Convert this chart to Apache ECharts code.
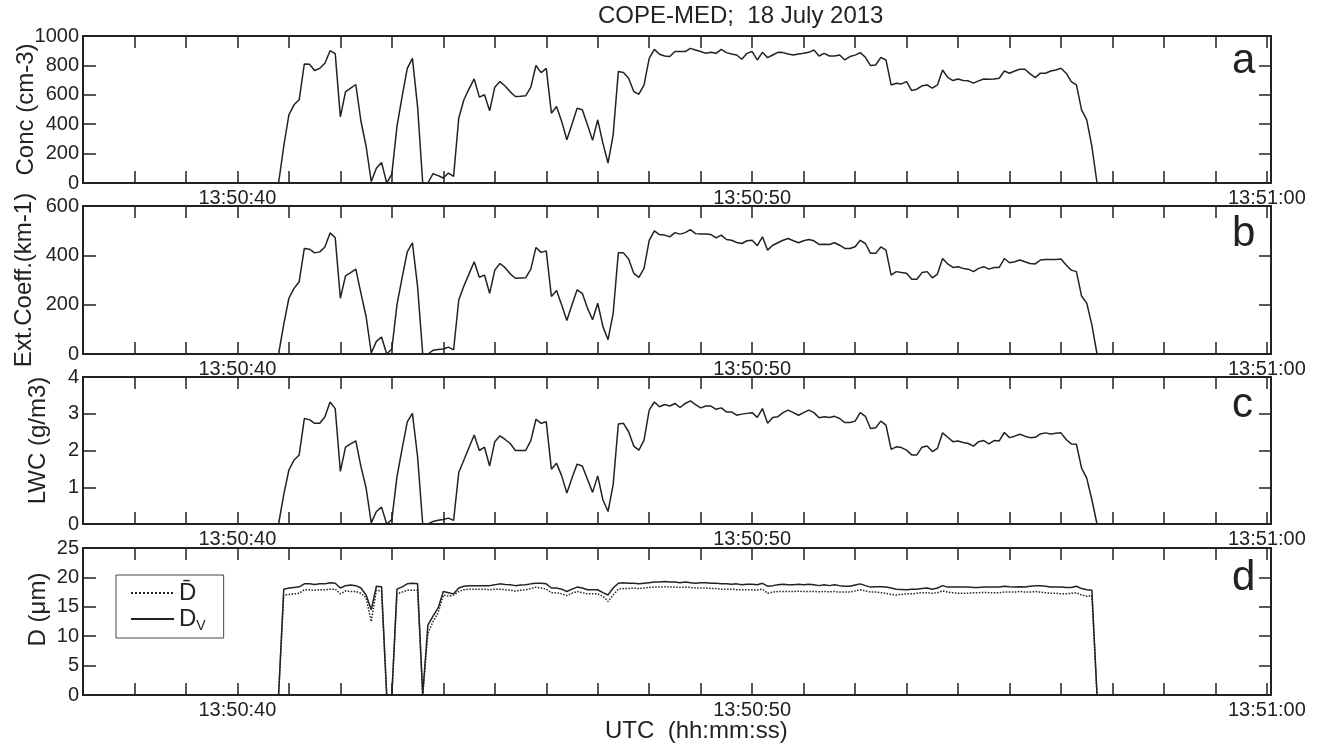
<!DOCTYPE html>
<html>
<head>
<meta charset="utf-8">
<script src="https://cdn.jsdelivr.net/npm/echarts@6.0.0/dist/echarts.min.js"></script>
<style>
html,body{margin:0;padding:0;background:#fff;}
#chart{width:1322px;height:747px;}
</style>
</head>
<body>
<div id="chart"></div>
<script>
// seconds after 13:50:00 UTC (10 Hz samples)
let seconds = [
40.8,40.9,41.0,41.1,41.2,41.3,41.4,41.5,41.6,41.7,41.8,41.9,42.0,42.1,42.2,42.3,42.4,42.5,42.6,42.7,
42.8,42.9,43.0,43.1,43.2,43.3,43.4,43.5,43.6,43.7,43.8,43.9,44.0,44.1,44.2,44.3,44.4,44.5,44.6,44.7,
44.8,44.9,45.0,45.1,45.2,45.3,45.4,45.5,45.6,45.7,45.8,45.9,46.0,46.1,46.2,46.3,46.4,46.5,46.6,46.7,
46.8,46.9,47.0,47.1,47.2,47.3,47.4,47.5,47.6,47.7,47.8,47.9,48.0,48.1,48.2,48.3,48.4,48.5,48.6,48.7,
48.8,48.9,49.0,49.1,49.2,49.3,49.4,49.5,49.6,49.7,49.8,49.9,50.0,50.1,50.2,50.3,50.4,50.5,50.6,50.7,
50.8,50.9,51.0,51.1,51.2,51.3,51.4,51.5,51.6,51.7,51.8,51.9,52.0,52.1,52.2,52.3,52.4,52.5,52.6,52.7,
52.8,52.9,53.0,53.1,53.2,53.3,53.4,53.5,53.6,53.7,53.8,53.9,54.0,54.1,54.2,54.3,54.4,54.5,54.6,54.7,
54.8,54.9,55.0,55.1,55.2,55.3,55.4,55.5,55.6,55.7,55.8,55.9,56.0,56.1,56.2,56.3,56.4,56.5,56.6,56.7
];
/* a: Conc (cm-3) */
let conc = [
0,250,464,532,566,810,808,765,780,815,900,880,450,620,645,670,420,250,10,100,
140,0,60,385,590,780,848,520,0,0,63,50,34,68,45,441,566,640,708,584,
600,491,652,690,660,620,588,590,593,652,799,751,780,475,520,419,294,400,509,498,
396,290,430,271,136,328,758,751,713,622,604,667,848,909,876,864,860,894,894,894,
916,905,894,882,889,882,909,887,878,871,842,882,894,837,889,853,871,889,887,878,
871,878,882,889,905,864,882,864,864,871,837,860,870,887,855,799,803,855,837,667,
679,674,690,629,638,661,667,645,667,769,719,697,708,697,695,679,695,708,706,708,
713,762,747,762,774,774,742,717,747,747,762,769,781,747,690,667,498,430,249,0
];
/* b: Ext.Coeff. (km-1) */
let ext = [
0,120,226,266,293,428,425,410,414,434,491,471,226,317,330,344,246,152,4,51,
69,0,20,200,310,414,451,273,0,0,15,18,20,28,17,219,276,325,374,311,
320,246,340,367,350,325,307,308,309,344,432,412,418,233,257,199,136,200,260,246,
186,139,206,112,58,165,410,410,385,327,311,347,461,499,484,482,475,492,486,492,
504,488,486,486,484,471,482,464,461,452,448,459,461,439,475,421,441,451,461,468,
459,451,459,464,459,444,445,444,451,441,428,428,435,461,448,408,408,434,421,320,
334,330,327,303,303,330,334,309,324,387,365,351,354,347,344,334,347,354,344,351,
351,387,370,374,381,374,367,365,381,383,383,383,385,361,340,334,235,206,118,0
];
/* c: LWC (g/m3) */
let lwc = [
0,0.8,1.47,1.74,1.88,2.87,2.84,2.74,2.74,2.92,3.32,3.14,1.43,2.09,2.18,2.26,1.56,0.98,0.03,0.34,
0.46,0,0.12,1.29,2.05,2.78,3.01,1.83,0,0,0.07,0.10,0.12,0.16,0.10,1.40,1.74,2.08,2.42,2.00,
2.09,1.58,2.24,2.40,2.30,2.19,2.00,2.00,2.00,2.27,2.85,2.74,2.78,1.49,1.65,1.31,0.84,1.25,1.63,1.58,
1.22,0.86,1.31,0.66,0.34,1.07,2.72,2.74,2.51,2.12,2.01,2.28,3.10,3.32,3.19,3.25,3.21,3.28,3.17,3.28,
3.35,3.25,3.16,3.21,3.21,3.12,3.16,3.05,3.05,2.96,2.99,3.01,3.03,2.90,3.14,2.74,2.90,2.92,3.03,3.10,
3.03,2.96,3.03,3.10,3.03,2.89,2.92,2.90,2.93,2.87,2.76,2.76,2.80,3.03,2.93,2.60,2.62,2.80,2.69,2.03,
2.10,2.08,2.01,1.88,1.88,2.09,2.12,1.97,2.06,2.48,2.36,2.24,2.26,2.22,2.19,2.12,2.24,2.27,2.18,2.27,
2.26,2.49,2.35,2.39,2.44,2.39,2.35,2.36,2.45,2.48,2.45,2.47,2.48,2.30,2.18,2.17,1.52,1.25,0.66,0
];
/* d: mean diameter (dotted) */
let dMean = [
0,17.0,17.1,17.2,17.3,17.9,17.9,17.8,17.9,17.9,18.0,18.0,17.2,17.7,17.6,17.6,17.3,16.5,12.5,17.8,
17.7,0,0,17.2,17.5,17.8,17.8,17.8,0,10.5,12.5,14.0,17.0,16.8,17.0,17.6,17.9,18.0,18.0,18.0,
18.0,17.9,18.0,18.0,17.9,17.8,17.7,17.8,17.9,18.1,18.35,18.2,18.0,17.4,17.4,17.2,16.9,17.3,17.6,17.4,
17.2,17.2,17.2,16.8,15.9,17.0,18.0,18.1,18.1,18.2,18.1,18.2,18.3,18.35,18.35,18.4,18.35,18.35,18.3,18.35,
18.3,18.2,18.2,18.2,18.1,18.1,18.0,18.0,18.0,17.9,17.9,17.9,17.9,17.85,18.0,17.3,17.5,17.6,17.6,17.6,
17.6,17.65,17.6,17.6,17.6,17.55,17.6,17.55,17.6,17.5,17.5,17.5,17.7,17.9,17.7,17.5,17.5,17.4,17.3,17.1,
17.0,17.1,17.2,17.2,17.3,17.4,17.4,17.3,17.4,17.7,17.5,17.4,17.3,17.3,17.3,17.4,17.4,17.45,17.4,17.4,
17.4,17.5,17.5,17.5,17.6,17.5,17.5,17.6,17.5,17.4,17.3,17.3,17.2,17.2,17.3,17.4,17.0,16.8,16.9,0
];
/* d: volume diameter (solid) */
let dVol = [
0,18.0,18.2,18.3,18.4,18.9,18.9,18.8,18.9,18.9,19.1,19.0,18.2,18.6,18.7,18.6,18.2,17.0,14.5,18.5,
18.4,0,0,18.0,18.4,18.9,19.0,18.9,0,11.9,13.4,14.8,17.6,17.4,17.2,18.2,18.5,18.6,18.6,18.6,
18.6,18.6,18.75,18.9,18.8,18.75,18.6,18.7,18.75,18.9,19.0,19.0,18.9,18.2,18.2,18.0,17.6,18.0,18.35,18.2,
17.9,17.9,17.9,17.4,17.0,18.2,19.0,19.1,19.0,19.0,18.9,19.0,19.1,19.2,19.2,19.3,19.2,19.2,19.1,19.2,
19.1,19.0,19.1,19.1,19.0,19.0,18.9,18.9,18.85,18.9,18.75,18.85,18.85,18.75,19.0,18.5,18.6,18.75,18.85,18.75,
18.75,18.85,18.75,18.85,18.75,18.6,18.75,18.6,18.75,18.6,18.5,18.5,18.7,18.9,18.6,18.35,18.4,18.4,18.35,18.2,
18.0,17.95,17.9,18.0,18.0,18.1,18.2,18.0,18.2,18.6,18.35,18.35,18.35,18.35,18.35,18.3,18.3,18.35,18.35,18.35,
18.35,18.5,18.4,18.35,18.4,18.35,18.5,18.6,18.6,18.5,18.35,18.35,18.35,18.3,18.3,18.5,18.1,17.9,17.8,0
];
let timeLabels = {40:'13:50:40', 50:'13:50:50', 60:'13:51:00'};

let FONT = '"Liberation Sans", Arial, sans-serif';
let INK = '#222';

let panels = [
    {top:36,  height:147, min:0, max:1000, step:200, name:'Conc (cm-3)',      gap:45, pad:[0,0,0,0],  tag:'a', tagTop:40},
    {top:206, height:148, min:0, max:600,  step:200, name:'Ext.Coeff.(km-1)', gap:47, pad:[0,0,0,0],  tag:'b', tagTop:213},
    {top:377, height:147, min:0, max:4,    step:1,   name:'LWC (g/m3)',       gap:33, pad:[0,0,0,20], tag:'c', tagTop:384},
    {top:548, height:147, min:0, max:25,   step:5,   name:'D (\u03bcm)',      gap:33, pad:[0,0,0,24], tag:'d', tagTop:557}
];

function pairs(vals){
    return seconds.map(function(s,i){ return [s, vals[i]]; });
}

let grid = [], xAxis = [], yAxis = [], title = [];
panels.forEach(function(p,i){
    grid.push({left:83, right:51, top:p.top, height:p.height, outerBoundsMode:'none', containLabel:false});
    // bottom axis with labels, top axis only ticks
    xAxis.push({
        gridIndex:i, type:'value', min:37, max:60.08, interval:1, position:'bottom',
        axisLine:{show:true, onZero:false, lineStyle:{color:INK, width:2}},
        axisTick:{show:true, inside:true, length:12, lineStyle:{color:INK, width:1.5}},
        axisLabel:{fontSize:20, color:INK, fontFamily:FONT, margin:5,
            formatter:function(v){ return timeLabels[Math.round(v*100)/100] || ''; }},
        splitLine:{show:false}
    });
    xAxis.push({
        gridIndex:i, type:'value', min:37, max:60.08, interval:1, position:'top',
        axisLine:{show:true, onZero:false, lineStyle:{color:INK, width:2}},
        axisTick:{show:true, inside:true, length:12, lineStyle:{color:INK, width:1.5}},
        axisLabel:{show:false}, splitLine:{show:false}
    });
    yAxis.push({
        gridIndex:i, type:'value', min:p.min, max:p.max, interval:p.step, position:'left',
        name:p.name, nameLocation:'middle', nameGap:p.gap, nameMoveOverlap:false,
        nameTextStyle:{fontSize:24, color:INK, fontFamily:FONT, padding:p.pad},
        axisLine:{show:true, onZero:false, lineStyle:{color:INK, width:2}},
        axisTick:{show:true, inside:true, length:13, lineStyle:{color:INK, width:1.5}},
        axisLabel:{fontSize:20, color:INK, fontFamily:FONT, margin:4,
            formatter:function(v){ return String(v); }},
        splitLine:{show:false}
    });
    yAxis.push({
        gridIndex:i, type:'value', min:p.min, max:p.max, interval:p.step, position:'right',
        axisLine:{show:true, onZero:false, lineStyle:{color:INK, width:2}},
        axisTick:{show:true, inside:true, length:12, lineStyle:{color:INK, width:1.5}},
        axisLabel:{show:false}, splitLine:{show:false}
    });
    title.push({text:p.tag, left:1232, top:p.tagTop, padding:0,
        textStyle:{fontSize:42, fontWeight:'normal', color:INK, fontFamily:FONT}});
});

title.push({text:'COPE-MED;  18 July 2013', left:598, top:4, padding:0,
    textStyle:{fontSize:24, fontWeight:'normal', color:INK, fontFamily:FONT}});
title.push({text:'UTC  (hh:mm:ss)', left:605, top:719, padding:0,
    textStyle:{fontSize:24, fontWeight:'normal', color:INK, fontFamily:FONT}});

function lineSeries(name, vals, idx, type){
    return {
        name:name, type:'line', xAxisIndex:idx*2, yAxisIndex:idx*2,
        data:pairs(vals), symbol:'none', showSymbol:false, animation:false,
        itemStyle:{color:INK},
        lineStyle:{color:INK, width:1.5, type:type}
    };
}

let option = {
    backgroundColor:'#fff',
    animation:false,
    title:title,
    grid:grid,
    xAxis:xAxis,
    yAxis:yAxis,
    legend:{
        left:116, top:575, orient:'vertical',
        data:[{name:'Dbar', itemStyle:{opacity:0}}, {name:'Dv', itemStyle:{opacity:0}}],
        itemWidth:43, itemHeight:12, itemGap:2,
        padding:[6,18,5,14],
        borderColor:'#444', borderWidth:1,
        formatter:function(n){ return n === 'Dbar' ? '{b|D\u0304}' : '{b|D}{s|V}'; },
        textStyle:{color:INK, fontFamily:FONT,
            rich:{
                b:{fontSize:24, color:INK, fontFamily:FONT},
                s:{fontSize:14, color:INK, fontFamily:FONT, padding:[14,0,0,0]}
            }}
    },
    series:[
        lineSeries('Conc', conc, 0, 'solid'),
        lineSeries('Ext', ext, 1, 'solid'),
        lineSeries('LWC', lwc, 2, 'solid'),
        lineSeries('Dbar', dMean, 3, 'dotted'),
        lineSeries('Dv', dVol, 3, 'solid')
    ]
};

let chart = echarts.init(document.getElementById('chart'), null, {renderer:'canvas'});
chart.setOption(option);
</script>
</body>
</html>
